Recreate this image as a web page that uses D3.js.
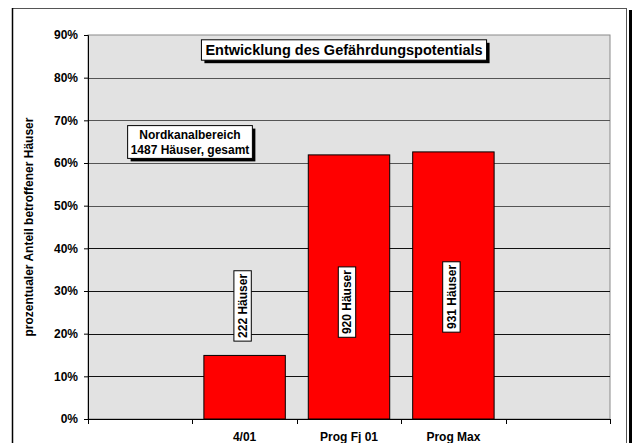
<!DOCTYPE html>
<html>
<head>
<meta charset="utf-8">
<script src="https://cdn.jsdelivr.net/npm/d3@7"></script>
<style>
  body { margin: 0; background: #fff; }
  svg { display: block; font-family: Arial, "Liberation Sans", sans-serif; font-weight: bold; }
</style>
</head>
<body>
<svg id="chart"></svg>
<script>
// chart data
const categories = ["", "4/01", "Prog Fj 01", "Prog Max", ""];
const shares = [null, 14.9, 61.9, 62.6, null]; // % of all houses
const houseLabels = [null, "222 Häuser", "920 Häuser", "931 Häuser", null];
const yTicks = [0, 10, 20, 30, 40, 50, 60, 70, 80, 90];
const chartTitle = "Entwicklung des Gefährdungspotentials";
const noteLines = ["Nordkanalbereich", "1487 Häuser, gesamt"];
const yTitle = "prozentualer Anteil betroffener Häuser";

const width = 636;
const height = 443;
const plot = { left: 88, right: 610, top: 35, bottom: 419 };

const svg = d3.select("#chart").attr("width", width).attr("height", height);

// outer frame with shadow on the right
svg.append("rect")
  .attr("x", 629).attr("y", 10).attr("width", 3).attr("height", height)
  .attr("fill", "#000");
svg.append("rect")
  .attr("x", 12.5).attr("y", 8.5).attr("width", 614).attr("height", height + 10)
  .attr("fill", "#fff").attr("stroke", "#555").attr("stroke-width", 1);
svg.append("line")
  .attr("x1", 12.5).attr("x2", 12.5).attr("y1", 8).attr("y2", height)
  .attr("stroke", "#000").attr("stroke-width", 1.5);

const x = d3.scaleBand()
  .domain(d3.range(categories.length))
  .range([plot.left, plot.right])
  .paddingInner(0).paddingOuter(0);

const y = d3.scaleLinear()
  .domain([0, 90])
  .range([plot.bottom, plot.top]);

// plot area
svg.append("rect")
  .attr("x", plot.left).attr("y", plot.top)
  .attr("width", plot.right - plot.left).attr("height", plot.bottom - plot.top)
  .attr("fill", "#e2e2e2").attr("stroke", "#8a8a8a").attr("stroke-width", 1);

// gridlines
svg.append("g")
  .selectAll("line")
  .data(yTicks.filter((d) => d > 0 && d < 90))
  .join("line")
  .attr("x1", plot.left).attr("x2", plot.right)
  .attr("y1", (d) => Math.round(y(d)) + 0.5).attr("y2", (d) => Math.round(y(d)) + 0.5)
  .attr("stroke", (d) => (d >= 50 ? "#555" : "#111"))
  .attr("stroke-width", 1.2);

// bars
const barW = x.bandwidth() * 0.78;
svg.append("g")
  .selectAll("rect")
  .data(d3.range(categories.length).filter((i) => shares[i] != null))
  .join("rect")
  .attr("x", (i) => x(i) + (x.bandwidth() - barW) / 2)
  .attr("y", (i) => y(shares[i]))
  .attr("width", barW)
  .attr("height", (i) => y(0) - y(shares[i]))
  .attr("fill", "#ff0000")
  .attr("stroke", "#000")
  .attr("stroke-width", 1);

// y axis
const yAxis = svg.append("g")
  .attr("transform", `translate(${plot.left},0)`)
  .call(d3.axisLeft(y).tickValues(yTicks).tickSize(4).tickPadding(6).tickFormat((d) => d + "%"));
yAxis.select(".domain").attr("stroke", "#000");
yAxis.selectAll(".tick line").attr("stroke", "#000");
yAxis.selectAll("text").attr("font-size", 12).attr("font-family", null).attr("font-weight", "bold").attr("fill", "#000");

// x axis: line, ticks between categories, labels centred
svg.append("line")
  .attr("x1", plot.left).attr("x2", plot.right)
  .attr("y1", plot.bottom + 0.5).attr("y2", plot.bottom + 0.5)
  .attr("stroke", "#000").attr("stroke-width", 1.2);
const boundaries = d3.range(categories.length).map((i) => x(i)).concat([x.range()[1]]);
svg.append("g")
  .selectAll("line")
  .data(boundaries)
  .join("line")
  .attr("x1", (d) => Math.round(d) + 0.5).attr("x2", (d) => Math.round(d) + 0.5)
  .attr("y1", plot.bottom).attr("y2", plot.bottom + 5)
  .attr("stroke", "#000");
svg.append("g")
  .selectAll("text")
  .data(d3.range(categories.length))
  .join("text")
  .attr("x", (i) => x(i) + x.bandwidth() / 2)
  .attr("y", plot.bottom + 22)
  .attr("text-anchor", "middle")
  .attr("font-size", 12)
  .text((i) => categories[i]);

// y axis title
svg.append("text")
  .attr("transform", `translate(33,${(plot.top + plot.bottom) / 2}) rotate(-90)`)
  .attr("text-anchor", "middle")
  .attr("font-size", 12)
  .text(yTitle);

// boxed text helper: white box, black border, optional shadow
function boxedText(g, lines, fontSize, pad, shadow) {
  const texts = g.selectAll("text")
    .data(lines)
    .join("text")
    .attr("text-anchor", "middle")
    .attr("font-size", fontSize)
    .attr("y", (d, i) => (i - (lines.length - 1) / 2) * fontSize * 1.2 + fontSize * 0.36)
    .text((d) => d);
  const bb = g.node().getBBox();
  const w = bb.width + pad[0] * 2;
  const h = lines.length * fontSize * 1.2 + pad[1] * 2;
  if (shadow) {
    g.insert("rect", "text")
      .attr("x", -w / 2 + 3).attr("y", -h / 2 + 3)
      .attr("width", w).attr("height", h)
      .attr("fill", "#000");
  }
  g.insert("rect", "text")
    .attr("x", -w / 2).attr("y", -h / 2)
    .attr("width", w).attr("height", h)
    .attr("fill", "#fff").attr("stroke", "#000").attr("stroke-width", 1);
  texts.raise();
}

// chart title box
const titleG = svg.append("g").attr("transform", "translate(344,50)");
boxedText(titleG, [chartTitle], 14.5, [4, 1.5], true);

// note box
const noteG = svg.append("g").attr("transform", "translate(190,142)");
boxedText(noteG, noteLines, 12, [3, 2], true);

// rotated house count labels on the bars
const labelAt = [null, 26.5, 27.4, 28.6];
d3.range(categories.length)
  .filter((i) => houseLabels[i] != null)
  .forEach((i) => {
    const g = svg.append("g")
      .attr("transform", `translate(${x(i) + x.bandwidth() / 2 - 2},${y(labelAt[i])}) rotate(-90)`);
    boxedText(g, [houseLabels[i]], 12, [3, 1.5], false);
  });
</script>
</body>
</html>
